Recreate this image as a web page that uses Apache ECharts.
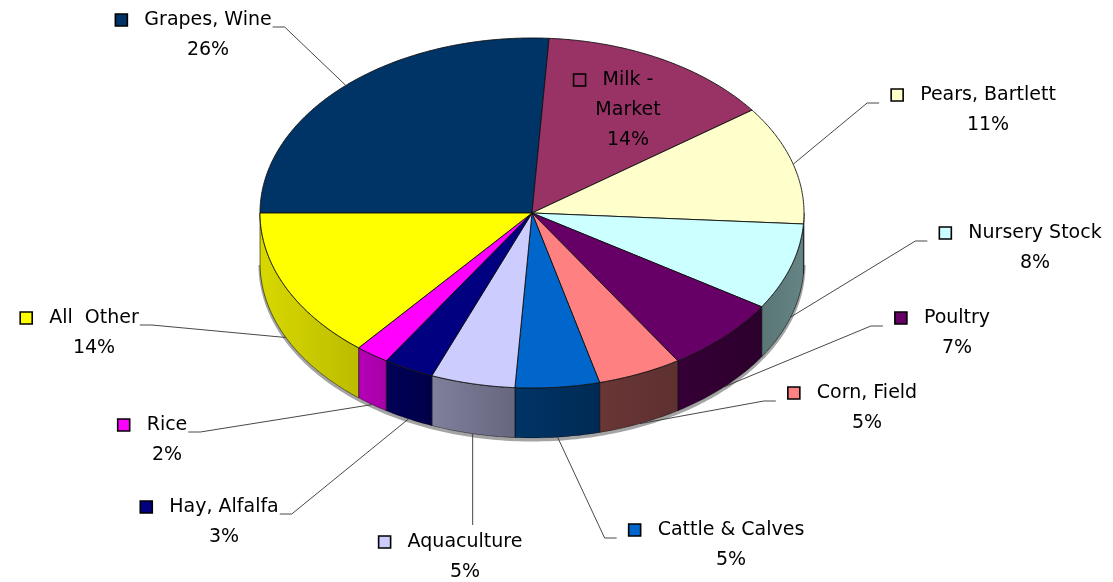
<!DOCTYPE html>
<html><head><meta charset="utf-8">
<script src="https://cdn.jsdelivr.net/npm/echarts@6/dist/echarts.min.js"></script>
<style>html,body{margin:0;padding:0;background:#fff}#chart{width:1113px;height:582px}</style>
</head><body><div id="chart"></div>
<script>
// ---- data ----
const categories = ['Grapes, Wine','Milk - Market','Pears, Bartlett','Nursery Stock','Poultry','Corn, Field','Cattle & Calves','Aquaculture','Hay, Alfalfa','Rice','All  Other'];
const shares = [26, 14, 11, 8, 7, 5, 5, 5, 3, 2, 14];

// ---- styles ----
const topColors  = ['#003366','#993366','#FFFFCC','#CCFFFF','#660066','#FF8080','#0066CC','#CCCCFF','#000080','#FF00FF','#FFFF00'];
const sideColors = [['#002244','#002244'],['#662244','#662244'],['#9a9a80','#8a8a70'],['#5a7676','#668484'],['#360036','#2c002c'],['#6a3636','#5e3030'],['#003466','#002a55'],['#80809e','#66667e'],['#000058','#000048'],['#b400b4','#a800a8'],['#d8d800','#bcbc00']];

// ---- layout ----
const PIE = {cx: 532, cy: 213, rx: 272, ry: 175, depth: 50, startAngle: 180};
const FONT_FAMILY = '"Comic Sans MS", "DejaVu Sans", sans-serif';
const FONT_SIZE = 19;
const LINE_H = 30;
const labelLayout = [
  {x: 208, y: 20,  side: 'L'},
  {x: 628, y: 80,  side: 'in'},
  {x: 988, y: 95,  side: 'R'},
  {x: 1035, y: 233, side: 'R'},
  {x: 957, y: 318, side: 'R'},
  {x: 867, y: 393, side: 'R'},
  {x: 731, y: 530, side: 'R'},
  {x: 465, y: 542, side: 'B'},
  {x: 224, y: 507, side: 'L'},
  {x: 167, y: 425, side: 'L'},
  {x: 94,  y: 318, side: 'L'}
];

const total = shares.reduce((a, b) => a + b, 0);
const angles = [];
let acc = PIE.startAngle;
shares.forEach(v => { const a1 = acc; const a2 = acc - v / total * 360; angles.push([a1, a2]); acc = a2; });

const rad = d => d * Math.PI / 180;
const topPt = t => [PIE.cx + PIE.rx * Math.cos(rad(t)), PIE.cy - PIE.ry * Math.sin(rad(t))];
const botPt = t => { const p = topPt(t); return [p[0], p[1] + PIE.depth]; };

const measureCtx = document.createElement('canvas').getContext('2d');
measureCtx.font = FONT_SIZE + 'px ' + FONT_FAMILY;
const textW = s => measureCtx.measureText(s).width;

function renderItem(params, api) {
  const i = params.dataIndex;
  const [a1, a2] = angles[i];
  const children = [];
  // side face (front half only)
  const hi = Math.min(a1, 0), lo = Math.max(a2, -180);
  if (hi > lo) {
    const pts = [];
    const n = Math.max(2, Math.ceil((hi - lo) / 1));
    for (let k = 0; k <= n; k++) pts.push(topPt(hi - (hi - lo) * k / n));
    const bot = [];
    for (let k = 0; k <= n; k++) bot.push(botPt(lo + (hi - lo) * k / n));
    // soft shadow under bottom edge
    children.push({type: 'polyline', shape: {points: bot.map(p => [p[0], p[1] + 2])},
      style: {stroke: 'rgba(90,90,90,0.55)', lineWidth: 3, fill: null}, silent: true});
    children.push({type: 'polygon', shape: {points: pts.concat(bot)},
      style: {fill: {type: 'linear', x: 1, y: 0, x2: 0, y2: 0, colorStops: [
        {offset: 0, color: sideColors[i][1]}, {offset: 1, color: sideColors[i][0]}]},
        stroke: 'rgba(0,0,0,0.7)', lineWidth: 0.8}});
  }
  // top face
  const tp = [[PIE.cx, PIE.cy]];
  const n = Math.max(2, Math.ceil((a1 - a2) / 0.5));
  for (let k = 0; k <= n; k++) tp.push(topPt(a1 - (a1 - a2) * k / n));
  children.push({type: 'polygon', shape: {points: tp},
    style: {fill: topColors[i], stroke: '#111', lineWidth: 0.9}});

  // label
  const L = labelLayout[i];
  const pct = Math.round(api.value(0) / total * 100) + '%';
  const lines = (L.side === 'in' ? categories[i].replace(' - ', ' -\n') : categories[i]).split('\n');
  lines.push(pct);
  const w1 = textW(lines[0]);
  const textLeft = L.x - w1 / 2;
  const mSize = 12;
  const markerLeft = textLeft - 17 - mSize;
  children.push({type: 'text', x: L.x, y: L.y - LINE_H / 2,
    style: {text: lines.join('\n'), font: FONT_SIZE + 'px ' + FONT_FAMILY, fill: '#000',
      align: 'center', verticalAlign: 'top', lineHeight: LINE_H}});
  children.push({type: 'rect', shape: {x: markerLeft, y: L.y - mSize / 2, width: mSize, height: mSize},
    style: {fill: topColors[i], stroke: '#000', lineWidth: 1.6}});
  // leader line
  const mid = (a1 + a2) / 2;
  const anchor = Math.sin(rad(mid)) >= 0 ? topPt(mid) : botPt(mid);
  let pts = null;
  if (L.side === 'L') {
    const sx = L.x + w1 / 2 + 1, sy = L.y + 7;
    pts = [[sx, sy], [sx + 12, sy], anchor];
  } else if (L.side === 'R') {
    const sx = markerLeft - 12, sy = L.y + 8;
    pts = [[sx, sy], [sx - 12, sy], anchor];
  } else if (L.side === 'B') {
    pts = [[anchor[0], L.y - 17], anchor];
  }
  if (pts) children.push({type: 'polyline', shape: {points: pts},
    style: {stroke: '#333', lineWidth: 0.9, fill: null}});
  return {type: 'group', children};
}

const chart = echarts.init(document.getElementById('chart'), null, {renderer: 'canvas'});
chart.setOption({
  animation: false,
  backgroundColor: '#ffffff',
  series: [{
    type: 'custom',
    coordinateSystem: 'none',
    renderItem: renderItem,
    data: shares.map((v, i) => ({name: categories[i], value: [v]}))
  }]
});
</script>
</body></html>
